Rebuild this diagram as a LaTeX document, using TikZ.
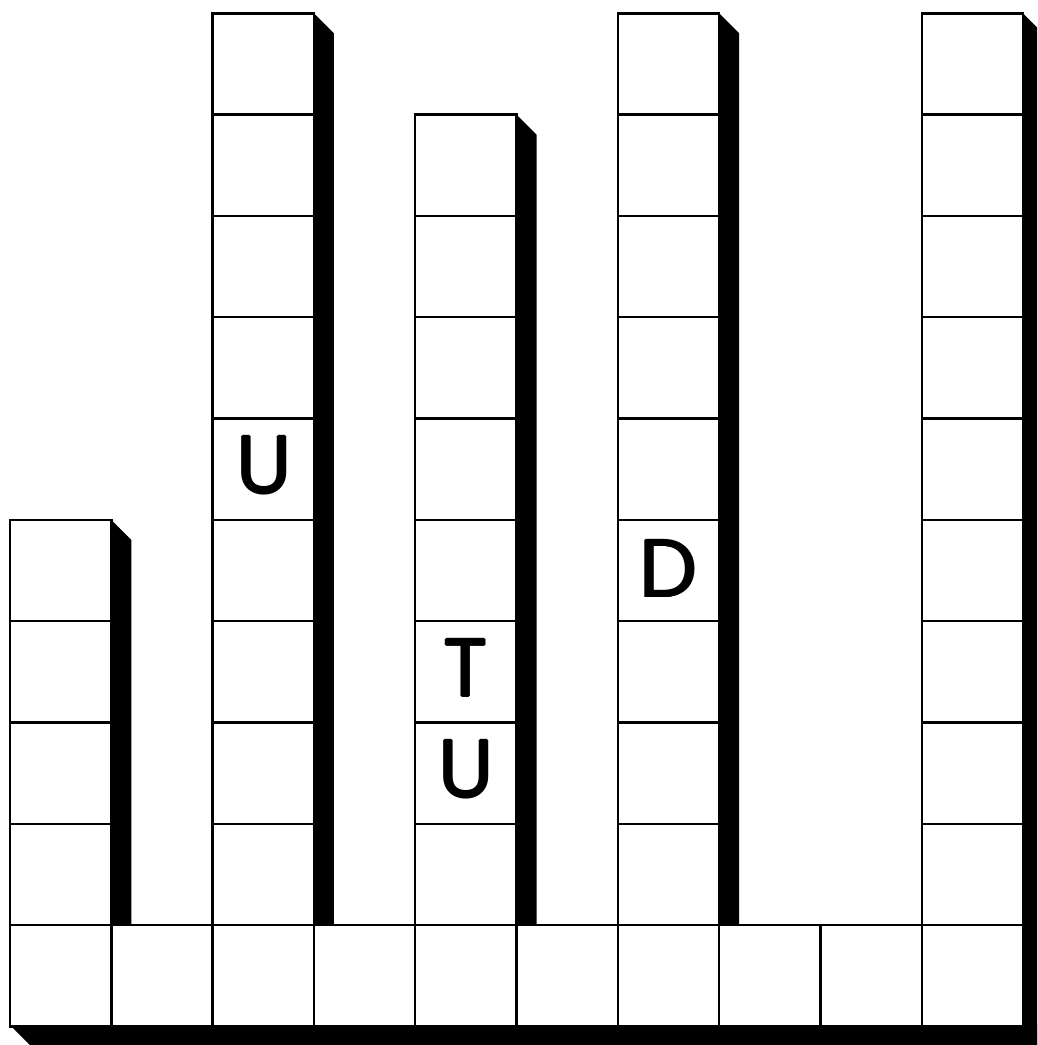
\documentclass[tikz,border=0pt]{standalone}
\usepackage{fontspec}
\newfontfamily\letterfont{Poppins}
\newcommand\heavyletter[1]{\rlap{\kern-0.9pt#1}\rlap{\kern0.9pt#1}\rlap{\raisebox{0.9pt}[0pt][0pt]{#1}}\rlap{\raisebox{-0.9pt}[0pt][0pt]{#1}}#1}
\begin{document}
\begin{tikzpicture}[x=1pt,y=-1pt,
  cellbox/.style={draw=black,fill=white,line width=2.4pt},
  shadowfill/.style={fill=black},
  letter/.style={font=\letterfont\fontsize{82}{82}\selectfont,inner sep=0pt}]
\useasboundingbox (0,0) rectangle (1037,1045);
\clip (0,0) rectangle (1037,1045);
\def\s{101.3}
% column shadows
\foreach \c/\n in {0/4,2/9,4/8,6/9,9/9} {
  \pgfmathsetmacro\xr{10+(\c+1)*\s}
  \pgfmathsetmacro\yt{925-\n*\s}
  \fill[shadowfill] (\xr,\yt) -- (\xr+20,\yt+20) -- (\xr+20,1045) -- (\xr,1045) -- cycle;
}
% bottom shadow
\fill[shadowfill] (10,1025) -- (30,1045) -- (1043,1045) -- (1043,1025) -- cycle;
% column cells
\foreach \c/\n in {0/4,2/9,4/8,6/9,9/9} {
  \foreach \k in {1,...,\n} {
    \pgfmathsetmacro\xl{10+\c*\s}
    \pgfmathsetmacro\yb{925-(\k-1)*\s}
    \draw[cellbox] (\xl,\yb) rectangle ++(\s,-\s);
  }
}
% bottom row
\foreach \c in {0,...,9} {
  \pgfmathsetmacro\xl{10+\c*\s}
  \draw[cellbox] (\xl,925) rectangle ++(\s,\s);
}
% letters
\node[letter] (uone) at (10+2.5*\s+1, 925-4.5*\s-4) {\heavyletter{U}};
\node[letter] (tee) at (10+4.5*\s, 925-2.5*\s-4) {\heavyletter{T}};
\node[letter] (utwo) at (10+4.5*\s, 925-1.5*\s-4) {\heavyletter{U}};
\node[letter] (dee) at (10+6.5*\s, 925-3.5*\s-2) {\heavyletter{D}};
\end{tikzpicture}
\end{document}
